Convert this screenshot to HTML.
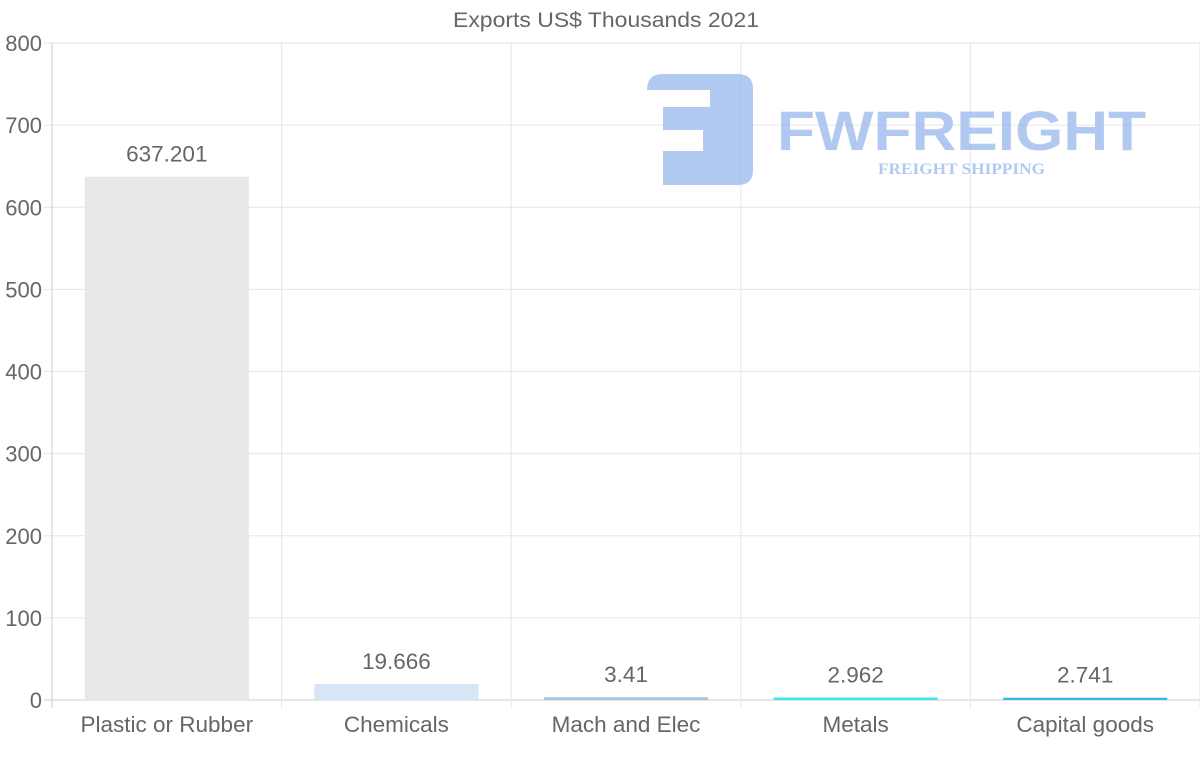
<!DOCTYPE html>
<html><head><meta charset="utf-8"><style>
body{margin:0;background:#fff;}
svg{display:block;font-family:"Liberation Sans",Arial,sans-serif;}
</style></head><body>
<svg id="chart" width="1200" height="763" viewBox="0 0 1200 763">
<text x="606" y="27" text-anchor="middle" font-size="21" fill="#666" textLength="306" lengthAdjust="spacingAndGlyphs">Exports US$ Thousands 2021</text>
<g id="grid"></g>
<g id="logo" opacity="0.75">
<path d="M647,90 Q647,74 663,74 H738 Q753,74 753,89 V170 Q753,185 738,185 H663 V151 H703 V130 H663 V107 H710 V90 Z" fill="#98b8ec"/>
<text x="777" y="150" font-size="56" font-weight="bold" fill="#98b8ec" textLength="369" lengthAdjust="spacingAndGlyphs">FWFREIGHT</text>
<text x="878" y="174" font-size="16" font-weight="bold" font-family="Liberation Serif,serif" fill="#98b8ec" textLength="167" lengthAdjust="spacingAndGlyphs">FREIGHT SHIPPING</text>
</g>
<g id="bars"></g>
</svg>
<script>
const categories=["Plastic or Rubber","Chemicals","Mach and Elec","Metals","Capital goods"];
const values=[637.201,19.666,3.41,2.962,2.741];
const valueLabels=["637.201","19.666","3.41","2.962","2.741"];
const yTicks=[0,100,200,300,400,500,600,700,800];
const fills=["#e8e8e8","#d6e6f7","#a9c4e0","#3ee3e3","#3ab4e2"];
const L=52,R=1200,T=43,B=700,YMAX=800;
const y=v=>B-(v/YMAX)*(B-T);
const bw=(R-L)/categories.length;
const x=i=>L+i*bw;
const NS="http://www.w3.org/2000/svg";
const g=document.getElementById('grid'),bg=document.getElementById('bars');
function el(t,a,p){const e=document.createElementNS(NS,t);for(const k in a)e.setAttribute(k,a[k]);p.appendChild(e);return e;}
yTicks.forEach(t=>{
 const ln=el('line',{x1:L-8,x2:R,y1:y(t),y2:y(t),stroke:t===0?'#ccc':'#e6e6e6','stroke-width':1},g);
 
 
 const tx=el('text',{x:L-10,y:y(t)+8,'text-anchor':'end','font-size':22,fill:'#666'},g);
 tx.textContent=t;
 
 
});
for(let i=0;i<=categories.length;i++){
 const ln=el('line',{x1:x(i),x2:x(i),y1:T,y2:B+8,stroke:i===0?'#ccc':'#e6e6e6'},g);
 
 
}
categories.forEach((c,i)=>{
 const cx=x(i)+bw/2,w=bw*0.715;
 const r=el('rect',{x:cx-w/2,y:y(values[i]),width:w,height:B-y(values[i]),fill:fills[i]},bg);
 
 
 const vl=el('text',{x:cx,y:y(values[i])-15,'text-anchor':'middle','font-size':22.5,fill:'#666'},bg);
 vl.textContent=valueLabels[i];
 
 
 const xl=el('text',{x:cx,y:732,'text-anchor':'middle','font-size':22.5,fill:'#666'},bg);
 xl.textContent=c;
 
 
});
</script>
</body></html>
